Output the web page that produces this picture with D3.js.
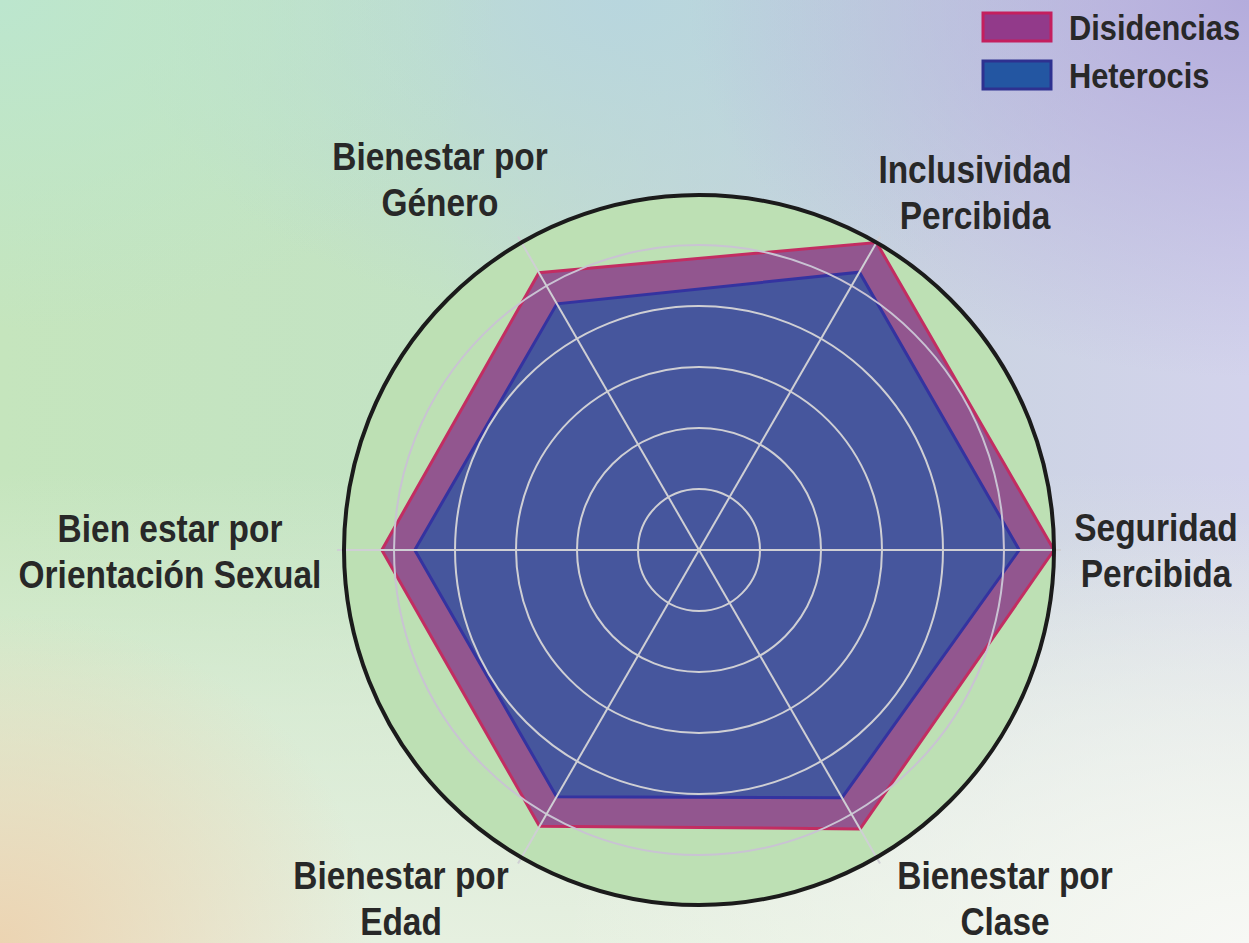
<!DOCTYPE html>
<html>
<head>
<meta charset="utf-8">
<script src="https://cdn.jsdelivr.net/npm/d3@7"></script>
<style>
  html, body { margin: 0; padding: 0; }
  body {
    width: 1249px; height: 943px; overflow: hidden;
    background:
      radial-gradient(ellipse 45% 40% at 100% 0%, rgba(180,172,220,1) 0%, rgba(180,172,220,0) 100%),
      radial-gradient(ellipse 30% 35% at 0% 100%, rgba(236,212,178,1) 0%, rgba(236,212,178,0) 100%),
      radial-gradient(ellipse 55% 45% at 100% 100%, rgba(247,248,245,1) 0%, rgba(247,248,245,0) 100%),
      linear-gradient(0deg, rgba(230,240,224,1) 0%, rgba(230,240,224,0.6) 25%, rgba(230,240,224,0) 50%),
      radial-gradient(ellipse 40% 35% at 0% 0%, rgba(188,230,206,1) 0%, rgba(188,230,206,0) 100%),
      radial-gradient(ellipse 40% 35% at 50% 0%, rgba(184,214,222,1) 0%, rgba(184,214,222,0) 100%),
      linear-gradient(90deg, #c5e5bd 0%, #c3e3c4 35%, #c6d4dc 62%, #d3d3ec 100%);
  }
  text { font-family: "Liberation Sans", Arial, sans-serif; font-weight: bold; fill: #282828; }
</style>
</head>
<body>
<div id="chart"></div>
<script>
// axes, counter-clockwise from the right
const axes = [
  ["Seguridad", "Percibida"],
  ["Inclusividad", "Percibida"],
  ["Bienestar por", "Género"],
  ["Bien estar por", "Orientación Sexual"],
  ["Bienestar por", "Edad"],
  ["Bienestar por", "Clase"]
];
const seriesNames = ["Disidencias", "Heterocis"];
const disidencias = [5.82, 5.82, 5.25, 5.2, 5.23, 5.28];
const heterocis = [5.25, 5.26, 4.66, 4.66, 4.67, 4.69];
const gridTicks = [1, 2, 3, 4, 5];
const maxValue = 5.82;

const w = 1249, h = 943;
const cx = 699, cy = 550, R = 355;
const squeeze = 0.88; // condensed look

const svg = d3.select("#chart").append("svg")
  .attr("width", w).attr("height", h);

const r = d3.scaleLinear().domain([0, maxValue]).range([0, R]);
const angle = d3.scaleLinear().domain([0, axes.length]).range([0, 2 * Math.PI]);

const g = svg.append("g").attr("transform", "translate(" + cx + "," + cy + ")");

// green plot area
g.append("circle").attr("r", R).attr("fill", "#bde0b4");

// polygons, biggest first
const line = d3.lineRadial()
  .angle((d, i) => Math.PI / 2 - angle(i))
  .radius(d => r(d))
  .curve(d3.curveLinearClosed);

const series = [
  { name: seriesNames[0], values: disidencias, fill: "#92568f", stroke: "#c22d62" },
  { name: seriesNames[1], values: heterocis, fill: "#46569d", stroke: "#3433a0" }
];

g.selectAll("path.area")
  .data(series)
  .enter()
  .append("path")
  .attr("class", "area")
  .attr("d", d => line(d.values))
  .attr("fill", d => d.fill)
  .attr("stroke", d => d.stroke)
  .attr("stroke-width", 3)
  .attr("stroke-linejoin", "miter");

// grid rings
g.selectAll("circle.grid")
  .data(gridTicks)
  .enter()
  .append("circle")
  .attr("class", "grid")
  .attr("r", d => r(d))
  .attr("fill", "none")
  .attr("stroke", d => d == 5 ? "#c9c3d3" : "#cfcfd4")
  .attr("stroke-width", 2);

// spokes
g.selectAll("line.spoke")
  .data(axes)
  .enter()
  .append("line")
  .attr("class", "spoke")
  .attr("x1", 0).attr("y1", 0)
  .attr("x2", (d, i) => (R + 7) * Math.cos(angle(i)))
  .attr("y2", (d, i) => -(R + 7) * Math.sin(angle(i)))
  .attr("stroke", "#cfcfd4")
  .attr("stroke-width", 2);

// outer border
g.append("circle").attr("r", R).attr("fill", "none")
  .attr("stroke", "#1b1b1b").attr("stroke-width", 4);

// axis labels (first-line baseline, centred)
const labelPos = [[1156, 541], [975, 183], [440, 170], [170, 542], [401, 889], [1005, 889]];
const labels = svg.selectAll("text.axis-label")
  .data(axes)
  .enter()
  .append("text")
  .attr("class", "axis-label")
  .attr("text-anchor", "middle")
  .attr("font-size", 38)
  .attr("transform", (d, i) => "translate(" + labelPos[i][0] + "," + labelPos[i][1] + ") scale(" + squeeze + ",1)");

labels.selectAll("tspan")
  .data(d => d)
  .enter()
  .append("tspan")
  .attr("x", 0)
  .attr("dy", (d, j) => j == 0 ? 0 : 46)
  .text(d => d);

// legend
const legend = svg.selectAll("g.legend")
  .data(series)
  .enter()
  .append("g")
  .attr("class", "legend")
  .attr("transform", (d, i) => "translate(983," + (13 + 48 * i) + ")");

legend.append("rect")
  .attr("width", 68).attr("height", 28)
  .attr("fill", (d, i) => i == 0 ? "#923a8a" : "#2356a2")
  .attr("stroke", (d, i) => i == 0 ? "#c41f5e" : "#2e3190")
  .attr("stroke-width", 3);

legend.append("text")
  .attr("transform", "translate(86,27) scale(" + squeeze + ",1)")
  .attr("font-size", 35)
  .text(d => d.name);
</script>
</body>
</html>
